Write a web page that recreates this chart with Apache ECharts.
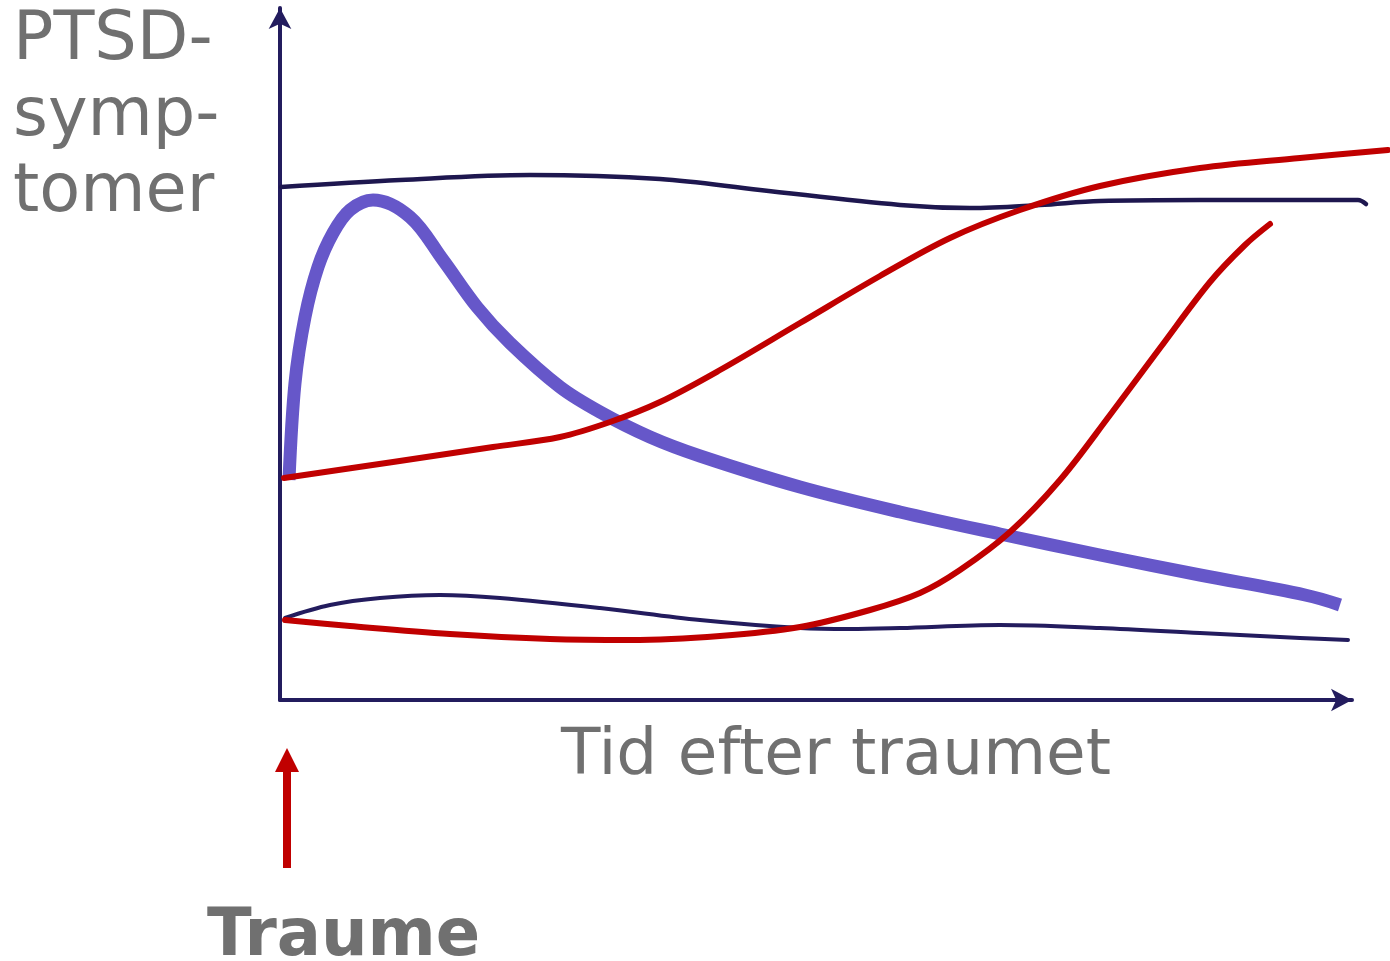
<!DOCTYPE html>
<html>
<head>
<meta charset="utf-8">
<title>PTSD-symptomer</title>
<script src="https://cdn.jsdelivr.net/npm/echarts@6/dist/echarts.min.js"></script>
<style>
  html, body { margin: 0; padding: 0; background: #fff; }
  #chart { width: 1390px; height: 961px; }
</style>
</head>
<body>
<div id="chart"></div>
<script>
// values: x = time after trauma, y = symptom level (arbitrary units)
const chronicHigh = [
  [0.1, 51.3], [12.0, 52.0], [25.0, 52.5], [38.0, 52.1], [48.0, 51.0], [62.0, 49.5],
  [69.0, 49.2], [76.0, 49.5], [82.0, 49.9], [92.0, 50.0], [107.8, 50.0], [108.6, 49.6]
];
const recovery = [
  [0.9, 22.0], [1.5, 31.7], [2.5, 38.3], [3.8, 43.3], [5.3, 46.7], [7.0, 49.0],
  [9.3, 50.0], [13.0, 48.3], [16.3, 44.0], [19.7, 39.3], [23.0, 35.7], [28.0, 31.3],
  [32.0, 28.8], [37.0, 26.3], [42.0, 24.4], [52.0, 21.3], [62.0, 18.8], [72.0, 16.6],
  [82.0, 14.5], [92.0, 12.5], [102.5, 10.5], [106.0, 9.5]
];
const worsening = [
  [0.4, 22.2], [11.3, 23.8], [21.3, 25.3], [28.0, 26.3], [33.0, 27.8], [38.0, 29.8],
  [44.0, 33.0], [52.0, 37.7], [60.0, 42.4], [67.0, 46.2], [74.0, 49.0], [82.0, 51.4],
  [92.0, 53.2], [102.0, 54.2], [110.8, 55.0]
];
const delayed = [
  [0.5, 8.0], [7.0, 7.4], [17.0, 6.6], [27.0, 6.1], [35.0, 6.0], [44.0, 6.4],
  [52.0, 7.3], [59.0, 9.0], [64.0, 10.7], [68.0, 13.0], [73.0, 16.8], [78.0, 22.0],
  [83.0, 28.5], [88.0, 35.2], [93.0, 41.8], [96.5, 45.5], [99.0, 47.6]
];
const resilient = [
  [0.5, 8.2], [5.0, 9.5], [10.0, 10.2], [16.0, 10.5], [22.0, 10.2], [32.0, 9.2],
  [42.0, 8.0], [52.0, 7.2], [57.0, 7.1], [62.0, 7.2], [72.0, 7.5], [82.0, 7.2],
  [92.0, 6.7], [102.0, 6.2], [106.8, 6.0]
];
const yTitle = ["PTSD-", "symp-", "tomer"];
const xTitle = "Tid efter traumet";
const eventLabel = "Traume";

const navy = "#231c5e";
const red = "#c00000";
const blue = "#6657c9";
const grey = "#707070";
const font = "DejaVu Sans";

const chart = echarts.init(document.getElementById("chart"));

// grid 0 only carries the arrowed axes, grid 1 carries the curves (they run past the x arrow)
function curve(data, color, width, cap) {
  return {
    type: "line",
    xAxisIndex: 1,
    yAxisIndex: 1,
    data: data,
    smooth: 0.35,
    showSymbol: false,
    silent: true,
    lineStyle: { color: color, width: width, cap: cap || "round", join: "round" }
  };
}

const axisLine = {
  show: true,
  symbol: ["none", "arrow"],
  symbolSize: [17, 21],
  lineStyle: { color: navy, width: 4 }
};
const hidden = {
  axisTick: { show: false }, axisLabel: { show: false }, splitLine: { show: false }
};

const option = {
  animation: false,
  backgroundColor: "#fff",
  grid: [
    { left: 280, right: 38, top: 8, bottom: 261 },
    { left: 280, right: 0, top: 8, bottom: 261 }
  ],
  xAxis: [
    Object.assign({ type: "value", gridIndex: 0, min: 0, max: 107.2, axisLine: axisLine }, hidden),
    Object.assign({ type: "value", gridIndex: 1, min: 0, max: 111, axisLine: { show: false } }, hidden)
  ],
  yAxis: [
    Object.assign({ type: "value", gridIndex: 0, min: 0, max: 69.2, axisLine: axisLine }, hidden),
    Object.assign({ type: "value", gridIndex: 1, min: 0, max: 69.2, axisLine: { show: false } }, hidden)
  ],
  series: [
    curve(chronicHigh, "#1e174f", 4.5),
    curve(resilient, navy, 4),
    curve(recovery, blue, 13, "butt"),
    curve(worsening, red, 6),
    curve(delayed, red, 6)
  ],
  graphic: [
    ...yTitle.map((t, i) => ({
      type: "text", left: 13, top: 8 + i * 76,
      style: { text: t, fill: grey, font: "67px '" + font + "'" }
    })),
    {
      type: "text", left: 561, top: 725,
      style: { text: xTitle, fill: grey, font: "64.5px '" + font + "'" }
    },
    {
      type: "text", left: 207, top: 905,
      style: { text: eventLabel, fill: grey, font: "bold 65.5px '" + font + "'" }
    },
    {
      type: "rect", shape: { x: 283, y: 768, width: 8, height: 100 },
      style: { fill: red }
    },
    {
      type: "polygon", shape: { points: [[275, 772], [299, 772], [287, 748]] },
      style: { fill: red }
    }
  ]
};

chart.setOption(option);
window.addEventListener("resize", function () {
  chart.resize();
});
</script>
</body>
</html>
